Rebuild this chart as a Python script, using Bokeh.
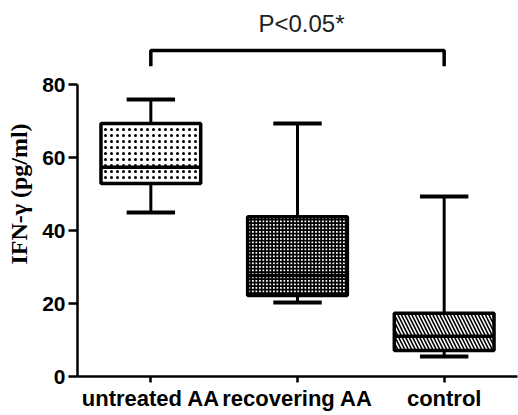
from bokeh.plotting import figure
from bokeh.models import ColumnDataSource, FactorRange, FixedTicker, Range1d
from bokeh.transform import dodge
from bokeh.core.properties import value
from bokeh.embed import file_html
from bokeh.resources import INLINE

# ---- data ----
groups = ["untreated AA", "recovering AA", "control"]
whisker_low = [44.9, 20.3, 5.5]
q1 = [52.9, 22.2, 7.1]
median = [57.3, 27.7, 11.0]
q3 = [69.3, 43.8, 17.3]
whisker_high = [75.9, 69.3, 49.3]
hatches = ["dot", "cross", "left_diagonal_line"]
hatch_scales = [6, 3.5, 7]
hatch_weights = [1.2, 2.0, 1.6]
y_ticks = [0, 20, 40, 60, 80]
y_label = "IFN-\u03b3 (pg/ml)"
sig_text = "P<0.05*"
sig_from, sig_to = "untreated AA", "control"
sig_y = 89.3
sig_drop = 85.0
sig_text_y = 96.6

src = ColumnDataSource(dict(g=groups, lo=whisker_low, q1=q1, med=median, q3=q3,
                            hi=whisker_high, hatch=hatches, hs=hatch_scales,
                            hw=hatch_weights))

p = figure(x_range=FactorRange(*groups), y_range=Range1d(0, 100),
           width=518, height=415, output_backend="svg", toolbar_location=None,
           min_border_left=77, min_border_right=1, min_border_top=11, min_border_bottom=39)
p.outline_line_color = None
p.xgrid.grid_line_color = None
p.ygrid.grid_line_color = None
p.background_fill_color = "white"

BOX_W = 0.68
CAP_W = 0.33

# whiskers
p.segment(x0="g", y0="q3", x1="g", y1="hi", source=src, line_color="black", line_width=3)
p.segment(x0="g", y0="lo", x1="g", y1="q1", source=src, line_color="black", line_width=3)
# caps
p.segment(x0=dodge("g", -CAP_W / 2, range=p.x_range), y0="hi",
          x1=dodge("g", CAP_W / 2, range=p.x_range), y1="hi",
          source=src, line_color="black", line_width=4)
p.segment(x0=dodge("g", -CAP_W / 2, range=p.x_range), y0="lo",
          x1=dodge("g", CAP_W / 2, range=p.x_range), y1="lo",
          source=src, line_color="black", line_width=4)
# boxes
p.vbar(x="g", top="q3", bottom="q1", width=BOX_W, source=src,
       fill_color="white", line_color="black", line_width=3.5,
       hatch_pattern="hatch", hatch_scale="hs", hatch_color="black", hatch_weight="hw")
# medians
p.segment(x0=dodge("g", -BOX_W / 2, range=p.x_range), y0="med",
          x1=dodge("g", BOX_W / 2, range=p.x_range), y1="med",
          source=src, line_color="black", line_width=3.5)

# significance bracket
p.line(x=[sig_from, sig_from, sig_to, sig_to], y=[sig_drop, sig_y, sig_y, sig_drop],
       line_color="black", line_width=3.5)
p.text(x=[groups[1]], y=[sig_text_y], text=[sig_text], text_align="center",
       text_baseline="middle", text_font=value("Liberation Sans"),
       text_font_size="24px", text_color="#222222", x_offset=4)

# axes
ya = p.yaxis[0]
ya.ticker = FixedTicker(ticks=y_ticks)
ya.bounds = (0, 80)
ya.axis_line_width = 2.5
ya.major_tick_line_width = 2.5
ya.major_tick_out = 9
ya.major_tick_in = 0
ya.minor_tick_line_color = None
ya.major_label_text_font = "Liberation Sans"
ya.major_label_text_font_style = "bold"
ya.major_label_text_font_size = "21px"
ya.major_label_text_color = "black"
ya.major_label_standoff = 3
ya.axis_label = y_label
ya.axis_label_text_font = "Liberation Serif"
ya.axis_label_text_font_style = "bold"
ya.axis_label_text_font_size = "24px"
ya.axis_label_text_color = "black"
ya.axis_label_standoff = 7

xa = p.xaxis[0]
xa.axis_line_width = 2.5
xa.major_tick_line_width = 2.5
xa.major_tick_out = 6
xa.major_tick_in = 0
xa.major_label_text_font = "Liberation Sans"
xa.major_label_text_font_style = "bold"
xa.major_label_text_font_size = "22px"
xa.major_label_text_color = "black"
xa.major_label_standoff = 3

open("out.html", "w").write(file_html(p, INLINE))
